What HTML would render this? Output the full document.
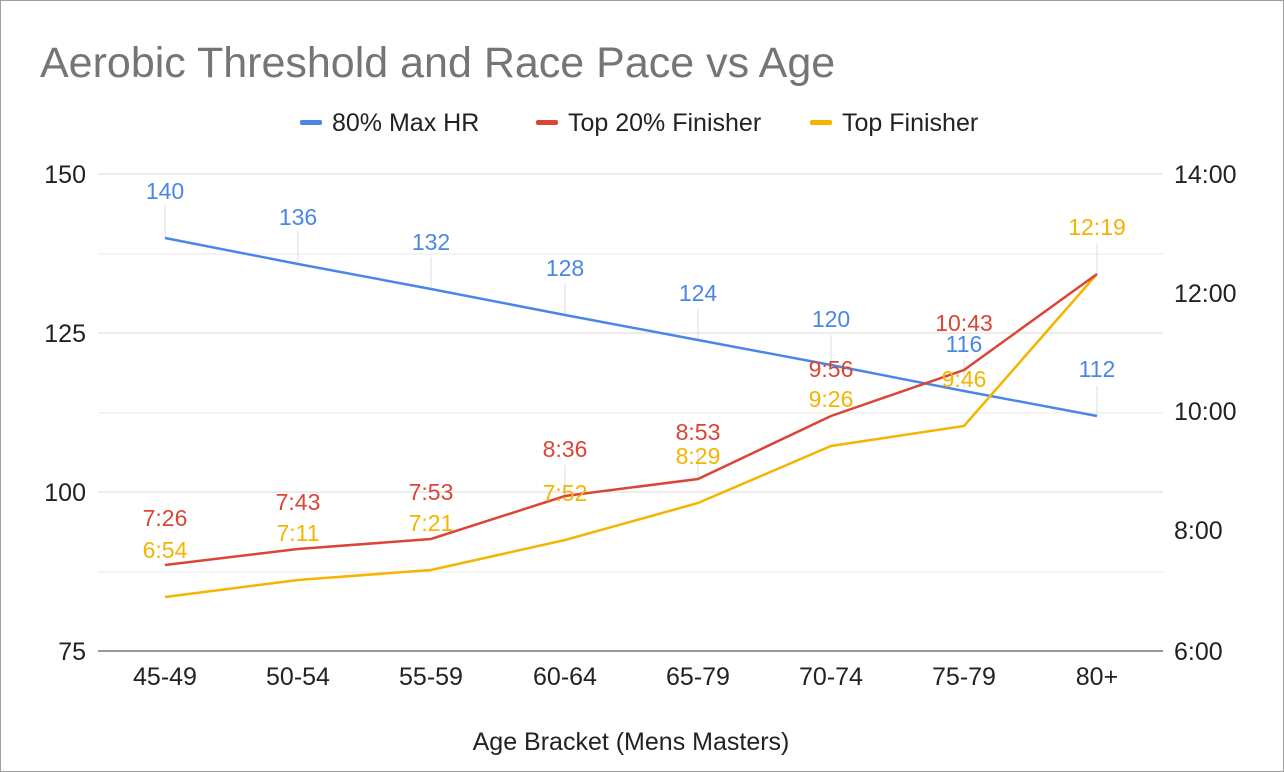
<!DOCTYPE html>
<html><head><meta charset="utf-8"><style>
html,body{margin:0;padding:0;background:#fff}
svg{display:block}
text{font-family:"Liberation Sans",Arial,sans-serif}
</style></head><body>
<svg width="1284" height="772" viewBox="0 0 1284 772" xmlns="http://www.w3.org/2000/svg">
<rect x="0.5" y="0.5" width="1283" height="771" fill="#fff" stroke="#9e9e9e"/>
<text x="40" y="77" font-size="43" fill="#757575">Aerobic Threshold and Race Pace vs Age</text>
<g font-size="25" fill="#222">
<rect x="300" y="120" width="22" height="5" rx="2" fill="#4a86e8"/><text x="332" y="131">80% Max HR</text>
<rect x="536" y="120" width="22" height="5" rx="2" fill="#db4437"/><text x="568" y="131">Top 20% Finisher</text>
<rect x="810" y="120" width="22" height="5" rx="2" fill="#f4b400"/><text x="842" y="131">Top Finisher</text>
</g>
<g stroke="#d9d9d9" stroke-width="1">
<line x1="98" x2="1163" y1="174" y2="174"/><line x1="98" x2="1163" y1="254" y2="254" stroke="#e8e8e8"/>
<line x1="98" x2="1163" y1="333" y2="333"/><line x1="98" x2="1163" y1="413" y2="413" stroke="#e8e8e8"/>
<line x1="98" x2="1163" y1="492" y2="492"/><line x1="98" x2="1163" y1="572" y2="572" stroke="#e8e8e8"/>
</g>
<line x1="98" x2="1163" y1="651" y2="651" stroke="#333"/>
<g font-size="25" fill="#222" text-anchor="end">
<text x="86" y="183">150</text><text x="86" y="342">125</text><text x="86" y="501">100</text><text x="86" y="660">75</text>
</g>
<g font-size="25" fill="#222">
<text x="1174" y="183">14:00</text><text x="1174" y="302">12:00</text><text x="1174" y="420">10:00</text><text x="1174" y="539">8:00</text><text x="1174" y="660">6:00</text>
</g>
<g font-size="25" fill="#222" text-anchor="middle">
<text x="165" y="685">45-49</text><text x="298" y="685">50-54</text><text x="431" y="685">55-59</text><text x="565" y="685">60-64</text>
<text x="698" y="685">65-79</text><text x="831" y="685">70-74</text><text x="964" y="685">75-79</text><text x="1097" y="685">80+</text>
<text x="631" y="750">Age Bracket (Mens Masters)</text>
</g>
<g stroke="#ddd" stroke-width="1">
<line x1="165" x2="165" y1="205" y2="238"/><line x1="298" x2="298" y1="231" y2="264"/><line x1="431" x2="431" y1="257" y2="289"/><line x1="565" x2="565" y1="283" y2="315"/><line x1="698" x2="698" y1="309" y2="340"/><line x1="831" x2="831" y1="335" y2="365"/><line x1="964" x2="964" y1="360" y2="391"/><line x1="1097" x2="1097" y1="386" y2="416"/>
<line x1="565" x2="565" y1="465" y2="496"/><line x1="698" x2="698" y1="449" y2="479"/><line x1="1097" x2="1097" y1="244" y2="274"/>
</g>
<polyline fill="none" stroke="#4a86e8" stroke-width="2.5" points="165,238 298,264 431,289 565,315 698,340 831,365 964,391 1097,416"/>
<polyline fill="none" stroke="#f4b400" stroke-width="2.5" points="165,597 298,580 431,570 565,540 698,503 831,446 964,426 1097,274"/>
<polyline fill="none" stroke="#db4437" stroke-width="2.5" points="165,565 298,549 431,539 565,496 698,479 831,416 964,370 1097,274"/>
<g font-size="23" text-anchor="middle" fill="#4a86e8">
<text x="165" y="199">140</text><text x="298" y="225">136</text><text x="431" y="250">132</text><text x="565" y="276">128</text>
<text x="698" y="301">124</text><text x="831" y="327">120</text><text x="964" y="352">116</text><text x="1097" y="377">112</text>
</g>
<g font-size="23" text-anchor="middle" fill="#db4437">
<text x="165" y="526">7:26</text><text x="298" y="510">7:43</text><text x="431" y="500">7:53</text><text x="565" y="457">8:36</text>
<text x="698" y="440">8:53</text><text x="831" y="377">9:56</text><text x="964" y="331">10:43</text>
</g>
<g font-size="23" text-anchor="middle" fill="#f4b400">
<text x="165" y="558">6:54</text><text x="298" y="541">7:11</text><text x="431" y="531">7:21</text><text x="565" y="501">7:52</text>
<text x="698" y="464">8:29</text><text x="831" y="407">9:26</text><text x="964" y="387">9:46</text><text x="1097" y="235">12:19</text>
</g>
</svg>
</body></html>
